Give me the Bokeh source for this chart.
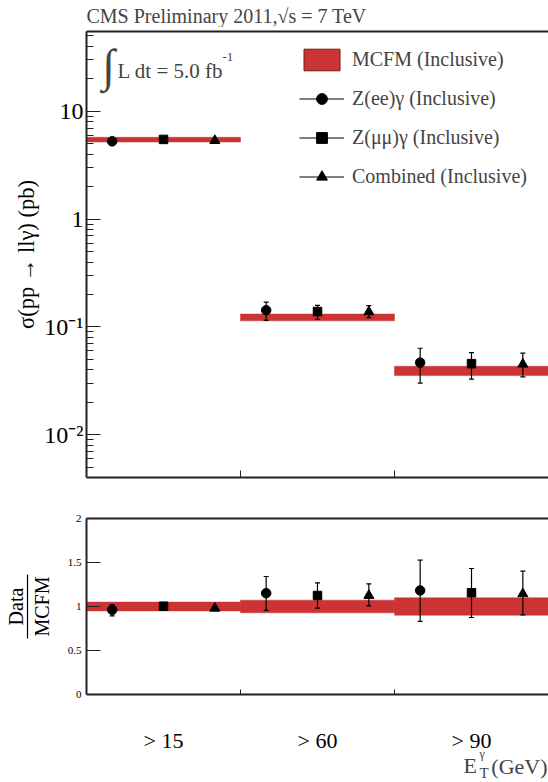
import math
from bokeh.plotting import figure
from bokeh.models import (Range1d, LinearAxis, FixedTicker, Label, Legend, LegendItem,
                          ColumnDataSource)
from bokeh.core.properties import value
from bokeh.layouts import column
from bokeh.embed import file_html
from bokeh.resources import INLINE

# ---------------- data ----------------
bin_labels = ["> 15", "> 60", "> 90"]
bin_lo = [0, 1, 2]
bin_hi = [1, 2, 3]

mcfm_xs = [5.47, 0.123, 0.0393]
mcfm_rel_err = [0.05, 0.072, 0.099]

ee_xs = [5.27, 0.143, 0.0467]
ee_lo = [4.89, 0.115, 0.0302]
ee_hi = [5.60, 0.170, 0.0635]

mm_xs = [5.49, 0.139, 0.0457]
mm_lo = [5.33, 0.118, 0.0328]
mm_hi = [5.66, 0.159, 0.0578]

comb_xs = [5.35, 0.138, 0.0452]
comb_lo = [5.22, 0.122, 0.0345]
comb_hi = [5.48, 0.158, 0.0572]

ee_ratio = [0.962, 1.151, 1.182]
ee_ratio_lo = [0.894, 0.955, 0.830]
ee_ratio_hi = [1.023, 1.341, 1.526]

mm_ratio = [1.003, 1.125, 1.156]
mm_ratio_lo = [0.975, 0.981, 0.875]
mm_ratio_hi = [1.031, 1.269, 1.432]

comb_ratio = [0.980, 1.125, 1.144]
comb_ratio_lo = [0.965, 1.008, 0.905]
comb_ratio_hi = [0.995, 1.258, 1.401]

y_tick_vals = [0.01, 0.1, 1, 10]
y_tick_labels = ["10\u207b\u00b2", "10\u207b\u00b9", "1", "10"]
r_tick_vals = [0, 0.5, 1, 1.5, 2]
r_tick_labels = ["0", "0.5", "1", "1.5", "2"]

FONT = "Liberation Serif"
RED = "#cc3333"
AX = "#222222"

ee_x = [b + 1/6 for b in bin_lo]
mm_x = [b + 1/2 for b in bin_lo]
comb_x = [b + 5/6 for b in bin_lo]

Y_LO, Y_HI = 0.00402, 55.0
X_RANGE = Range1d(0, 3)


def style_frame_axis(ax):
    ax.axis_line_width = 2
    ax.axis_line_color = AX
    ax.major_tick_line_color = AX
    ax.minor_tick_line_color = AX
    ax.major_tick_out = 0
    ax.minor_tick_out = 0


def border_axis():
    ax = LinearAxis(ticker=FixedTicker(ticks=[]), major_label_standoff=0)
    style_frame_axis(ax)
    ax.major_tick_line_color = None
    ax.minor_tick_line_color = None
    return ax


def text_strip(h):
    """Blank strip sharing the x scale, holding texts that sit outside the plot frames."""
    f = figure(frame_width=462, frame_height=h, x_range=X_RANGE, y_range=Range1d(h, 0),
               x_axis_location=None, y_axis_location=None,
               min_border_left=86, min_border_right=0, min_border_top=0, min_border_bottom=0,
               output_backend="svg", toolbar_location=None)
    f.grid.visible = False
    f.outline_line_color = None
    return f


def draw_series(p, xs, vals, lo, hi, marker, size):
    seg = p.segment(x0=xs, x1=xs, y0=lo, y1=hi, line_color="black", line_width=1.2)
    p.scatter(x=xs + xs, y=lo + hi, marker="dash", size=5, line_color="black", line_width=1.2)
    sc = p.scatter(x=xs, y=vals, marker=marker, size=size, fill_color="black", line_color="black")
    return seg, sc


# ---------------- title strip ----------------
p0 = text_strip(27)
p0.add_layout(Label(x=0, y=15, text="CMS Preliminary 2011,\u221as = 7 TeV", text_font=FONT,
                    text_font_size="20px", text_baseline="middle", text_align="left"))

# ---------------- top panel ----------------
p1 = figure(frame_width=462, frame_height=446, y_axis_type="log",
            x_range=X_RANGE, y_range=Range1d(Y_LO, Y_HI),
            min_border_left=86, min_border_right=0, min_border_top=4, min_border_bottom=20,
            output_backend="svg", toolbar_location=None)
p1.grid.visible = False
p1.outline_line_color = None

band_src = ColumnDataSource(dict(left=bin_lo, right=bin_hi,
                                 bottom=[v * (1 - e) for v, e in zip(mcfm_xs, mcfm_rel_err)],
                                 top=[v * (1 + e) for v, e in zip(mcfm_xs, mcfm_rel_err)]))
p1.quad(left="left", right="right", bottom="bottom", top="top", source=band_src,
        fill_color=RED, line_color=RED, line_width=0.5)

ee_r = draw_series(p1, ee_x, ee_xs, ee_lo, ee_hi, "circle", 9.5)
mm_r = draw_series(p1, mm_x, mm_xs, mm_lo, mm_hi, "square", 8.5)
cb_r = draw_series(p1, comb_x, comb_xs, comb_lo, comb_hi, "triangle", 10)

nan = float("nan")
leg_box = p1.quad(left=[nan], right=[nan], bottom=[nan], top=[nan],
                  fill_color=RED, line_color="#6a1a1a", line_width=1)
legend = Legend(items=[
    LegendItem(label="MCFM (Inclusive)", renderers=[leg_box]),
    LegendItem(label="Z(ee)\u03b3 (Inclusive)", renderers=list(ee_r)),
    LegendItem(label="Z(\u03bc\u03bc)\u03b3 (Inclusive)", renderers=list(mm_r)),
    LegendItem(label="Combined (Inclusive)", renderers=list(cb_r)),
], location=(213, 287), padding=0, margin=0, spacing=12, glyph_width=45, glyph_height=27,
    label_standoff=8, label_text_font=FONT, label_text_font_size="20px",
    border_line_color=None, background_fill_alpha=0)
p1.add_layout(legend)

xa = p1.xaxis[0]
xa.ticker = FixedTicker(ticks=[], minor_ticks=[1, 2])
style_frame_axis(xa)
xa.minor_tick_in = 7
xa.major_label_standoff = 0

ya = p1.yaxis[0]
minor = [m * 10.0 ** e for e in range(-3, 2) for m in range(2, 10)]
ya.ticker = FixedTicker(ticks=y_tick_vals, minor_ticks=minor)
ya.major_label_overrides = dict(zip(y_tick_vals, y_tick_labels))
style_frame_axis(ya)
ya.major_label_text_font = FONT
ya.major_label_text_font_size = "24px"
ya.major_label_text_color = "black"
ya.major_label_standoff = 3
ya.major_tick_in = 14
ya.minor_tick_in = 7
ya.axis_label = "\u03c3(pp \u2192 ll\u03b3) (pb)"
ya.axis_label_text_font = FONT
ya.axis_label_text_font_style = "normal"
ya.axis_label_text_font_size = "22.5px"
ya.axis_label_text_color = "black"
ya.axis_label_standoff = 2

p1.add_layout(border_axis(), "above")

p1.add_layout(Label(x=0, y=Y_HI, x_offset=22, y_offset=-34, text="\u222b",
                    text_font=FONT, text_font_size="46px", text_align="center", text_baseline="middle"))
p1.add_layout(Label(x=0, y=Y_HI, x_offset=31, y_offset=-39, text="L dt = 5.0 fb",
                    text_font=FONT, text_font_size="21px", text_align="left", text_baseline="middle"))
p1.add_layout(Label(x=0, y=Y_HI, x_offset=136, y_offset=-25, text="-1",
                    text_font=FONT, text_font_size="13px", text_align="left", text_baseline="middle"))

# ---------------- ratio panel ----------------
p2 = figure(frame_width=462, frame_height=176, x_range=X_RANGE, y_range=Range1d(0, 2),
            min_border_left=86, min_border_right=0, min_border_top=21, min_border_bottom=10,
            output_backend="svg", toolbar_location=None)
p2.grid.visible = False
p2.outline_line_color = None

p2.quad(left=bin_lo, right=bin_hi, bottom=[1 - e for e in mcfm_rel_err], top=[1 + e for e in mcfm_rel_err],
        fill_color=RED, line_color=RED, line_width=0.5)
draw_series(p2, ee_x, ee_ratio, ee_ratio_lo, ee_ratio_hi, "circle", 9.5)
draw_series(p2, mm_x, mm_ratio, mm_ratio_lo, mm_ratio_hi, "square", 8.5)
draw_series(p2, comb_x, comb_ratio, comb_ratio_lo, comb_ratio_hi, "triangle", 10)

xb = p2.xaxis[0]
xb.ticker = FixedTicker(ticks=[], minor_ticks=[1, 2])
style_frame_axis(xb)
xb.minor_tick_in = 5
xb.major_label_standoff = 0

yb = p2.yaxis[0]
yb.ticker = FixedTicker(ticks=r_tick_vals)
yb.major_label_overrides = dict(zip(r_tick_vals, r_tick_labels))
style_frame_axis(yb)
yb.minor_tick_line_color = None
yb.major_label_text_font = FONT
yb.major_label_text_font_size = "11px"
yb.major_label_text_color = "black"
yb.major_label_standoff = 5
yb.major_tick_in = 14
yb.axis_label = "MCFM"
yb.axis_label_text_font = FONT
yb.axis_label_text_font_style = "normal"
yb.axis_label_text_font_size = "20px"
yb.axis_label_text_color = "black"
yb.axis_label_standoff = 12

frac = LinearAxis(ticker=FixedTicker(ticks=[]), bounds=(1 - 0.36, 1 + 0.36),
                  axis_line_color="black", axis_line_width=1.2,
                  major_tick_out=0, minor_tick_out=0, major_label_standoff=0,
                  major_tick_line_color=None, minor_tick_line_color=None,
                  axis_label="Data", axis_label_standoff=1, axis_label_text_font=FONT,
                  axis_label_text_font_style="normal", axis_label_text_font_size="20px",
                  axis_label_text_color="black")
p2.add_layout(frac, "left")
p2.add_layout(border_axis(), "above")

# ---------------- category labels + x title strip ----------------
p3 = text_strip(78)
p3.text(x=[b + 0.5 for b in bin_lo], y=[36] * len(bin_lo), text=bin_labels,
        text_font=value(FONT), text_font_size="22px", text_align="center",
        text_baseline="middle", text_color="black")
p3.add_layout(Label(x=3, y=61, x_offset=-85, text="E", text_font=FONT, text_font_size="22px",
                    text_align="left", text_baseline="middle"))
p3.add_layout(Label(x=3, y=49, x_offset=-69, text="\u03b3", text_font=FONT, text_font_size="12px",
                    text_align="left", text_baseline="middle"))
p3.add_layout(Label(x=3, y=68, x_offset=-69, text="T", text_font=FONT, text_font_size="15px",
                    text_align="left", text_baseline="middle"))
p3.add_layout(Label(x=3, y=62, x_offset=-1, text="(GeV)", text_font=FONT, text_font_size="22px",
                    text_align="right", text_baseline="middle"))

layout = column(p0, p1, p2, p3, spacing=0)
open("out.html", "w").write(file_html(layout, INLINE))
